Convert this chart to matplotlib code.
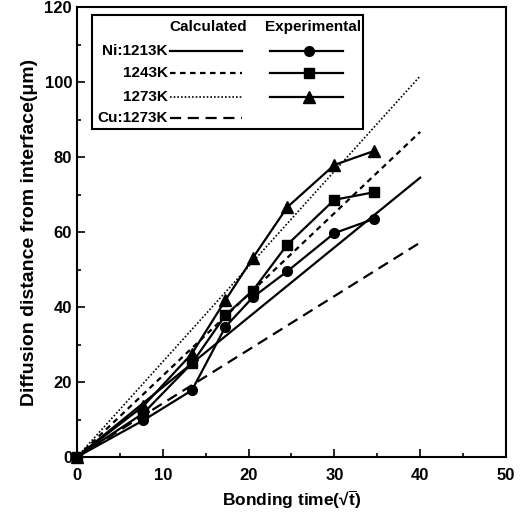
import numpy as np
import matplotlib
matplotlib.use("Agg")
import matplotlib.pyplot as plt

plt.rcParams['font.family'] = ['Liberation Sans', 'DejaVu Sans']
plt.rcParams['font.weight'] = 'bold'
plt.rcParams['mathtext.fontset'] = 'custom'
plt.rcParams['mathtext.rm'] = 'Liberation Sans:bold'
plt.rcParams['mathtext.bf'] = 'Liberation Sans:bold'
plt.rcParams['mathtext.it'] = 'Liberation Sans:bold'

# experimental data (x = sqrt of bonding time)
t_exp = [0, 7.75, 13.4, 17.3, 20.5, 24.5, 30.0, 34.6]
ni_1213_exp = [0, 9.8, 17.8, 34.7, 42.6, 49.5, 59.7, 63.5]
ni_1243_exp = [0, 11.7, 25.0, 37.8, 44.4, 56.6, 68.6, 70.6]
ni_1273_exp = [0, 13.6, 27.6, 41.8, 53.1, 66.6, 77.9, 81.6]

# calculated lines
t_calc = [0, 40]
ni_1213_calc = [0, 74.5]
ni_1243_calc = [0, 86.7]
ni_1273_calc = [0, 101.6]
cu_1273_calc = [0, 57.2]

fig = plt.figure(figsize=(5.2, 5.22), dpi=100)
ax = fig.add_axes([0.148, 0.1245, 0.825, 0.862])

lw = 1.6
ax.plot(t_calc, ni_1213_calc, '-', color='k', lw=lw)
ax.plot(t_calc, ni_1243_calc, color='k', lw=lw, linestyle=(0, (2.5, 2)))
ax.plot(t_calc, ni_1273_calc, color='k', lw=1.2, linestyle=(0, (1, 1.2)))
ax.plot(t_calc, cu_1273_calc, color='k', lw=lw, linestyle=(0, (5, 3)))

ax.plot(t_exp, ni_1213_exp, '-o', color='k', lw=lw, ms=7, clip_on=False)
ax.plot(t_exp, ni_1243_exp, '-s', color='k', lw=lw, ms=7, clip_on=False)
ax.plot(t_exp, ni_1273_exp, '-^', color='k', lw=lw, ms=8, clip_on=False)

ax.set_xlim(0, 50)
ax.set_ylim(0, 120)
ax.set_xticks(np.arange(0, 51, 10))
ax.set_xticks(np.arange(0, 51, 5), minor=True)
ax.set_yticks(np.arange(0, 121, 20))
ax.set_yticks(np.arange(0, 121, 10), minor=True)
ax.tick_params(direction='in', which='both', labelsize=12, width=1.2)
ax.tick_params(which='major', length=6)
ax.tick_params(which='minor', length=3)
ax.tick_params(axis='x', pad=8)
for lab in ax.get_xticklabels() + ax.get_yticklabels():
    lab.set_fontweight('bold')
for s in ax.spines.values():
    s.set_linewidth(1.5)

ax.set_xlabel(r'Bonding time(√$\overline{\mathrm{t}}$)', fontsize=12.5,
              fontweight='bold', labelpad=4)
ax.set_ylabel('Diffusion distance from interface(μm)', fontsize=14,
              fontweight='bold', labelpad=5)

# hand-built legend table
tr = ax.transAxes
box = plt.Rectangle((0.036, 0.729), 0.63, 0.253, transform=tr, fill=False,
                    lw=1.5, ec='k', zorder=5)
ax.add_patch(box)
ax.text(0.305, 0.956, 'Calculated', transform=tr, ha='center', va='center',
        fontsize=11, fontweight='bold')
ax.text(0.55, 0.956, 'Experimental', transform=tr, ha='center', va='center',
        fontsize=11, fontweight='bold')
rows_y = [0.902, 0.853, 0.800, 0.753]
row_labels = ['Ni:1213K', '1243K', '1273K', 'Cu:1273K']
calc_styles = [('-', lw), ((0, (2.5, 2)), lw), ((0, (1, 1.2)), 1.2), ((0, (5, 3)), lw)]
exp_markers = ['o', 's', '^', None]
for y, lab, (ls, w), mk in zip(rows_y, row_labels, calc_styles, exp_markers):
    ax.text(0.212, y, lab, transform=tr, ha='right', va='center',
            fontsize=11, fontweight='bold')
    ax.plot([0.217, 0.385], [y, y], transform=tr, color='k', lw=w, linestyle=ls)
    if mk is not None:
        ax.plot([0.45, 0.62], [y, y], transform=tr, color='k', lw=lw)
        ax.plot([0.54], [y], transform=tr, color='k', marker=mk,
                ms=8 if mk == '^' else 7)

fig.savefig('out.png', dpi=100)
